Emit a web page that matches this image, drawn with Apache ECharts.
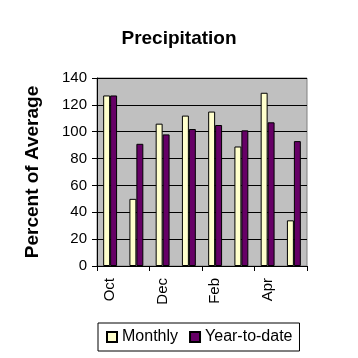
<!DOCTYPE html>
<html><head><meta charset="utf-8">
<script src="https://cdn.jsdelivr.net/npm/echarts@6/dist/echarts.min.js"></script>
<style>html,body{margin:0;padding:0;background:#fff}#c{width:358px;height:358px}</style>
</head><body><div id="c"></div>
<script>
var categories = ['Oct','Nov','Dec','Jan','Feb','Mar','Apr','May'];
var monthly = [127, 50, 106, 112, 115, 89, 129, 34];
var yearToDate = [127, 91, 98, 102, 105, 101, 107, 93];
var yTicks = [0, 20, 40, 60, 80, 100, 120, 140];

var chart = echarts.init(document.getElementById('c'), null, {renderer:'canvas'});
var font = 'Liberation Sans, Arial, sans-serif';
chart.setOption({
  animation: false,
  backgroundColor: '#fff',
  title: {text: 'Precipitation', left: 'center', top: 24,
    textStyle: {fontFamily: font, fontSize: 19, fontWeight: 'bold', color: '#000'}},
  grid: {left: 97, right: 51, top: 78, bottom: 92, show: true,
    backgroundColor: '#c0c0c0', borderColor: '#808080', borderWidth: 1},
  legend: {bottom: 7, left: 98, icon: 'rect', itemWidth: 10, itemHeight: 10, itemGap: 11,
    borderColor: '#000', borderWidth: 1, borderRadius: 0, padding: [6, 7, 6, 8],
    textStyle: {fontFamily: font, fontSize: 16, color: '#000'},
    data: ['Monthly', 'Year-to-date']},
  xAxis: {type: 'category', data: categories,
    axisLine: {lineStyle: {color: '#000', width: 1}},
    axisTick: {show: true, length: 5, lineStyle: {color: '#000'}},
    axisLabel: {rotate: 90, interval: 1, margin: 12, fontFamily: font, fontSize: 15, color: '#000'}},
  yAxis: {type: 'value', min: yTicks[0], max: yTicks[yTicks.length-1], interval: 20,
    name: 'Percent of Average', nameLocation: 'middle', nameGap: 55,
    nameTextStyle: {fontFamily: font, fontSize: 19, fontWeight: 'bold', color: '#000'},
    axisLine: {show: true, lineStyle: {color: '#000'}},
    axisTick: {show: true, length: 5, lineStyle: {color: '#000'}},
    splitLine: {show: true, lineStyle: {color: '#000', width: 1}},
    axisLabel: {margin: 10, fontFamily: font, fontSize: 15, color: '#000'}},
  series: [
    {name: 'Monthly', type: 'bar', data: monthly, barGap: '0%', barCategoryGap: '47%',
      itemStyle: {color: '#ffffcc', borderColor: '#000', borderWidth: 1}},
    {name: 'Year-to-date', type: 'bar', data: yearToDate, barGap: '0%', barCategoryGap: '47%',
      itemStyle: {color: '#660066', borderColor: '#000', borderWidth: 1}}
  ]
});
</script></body></html>
